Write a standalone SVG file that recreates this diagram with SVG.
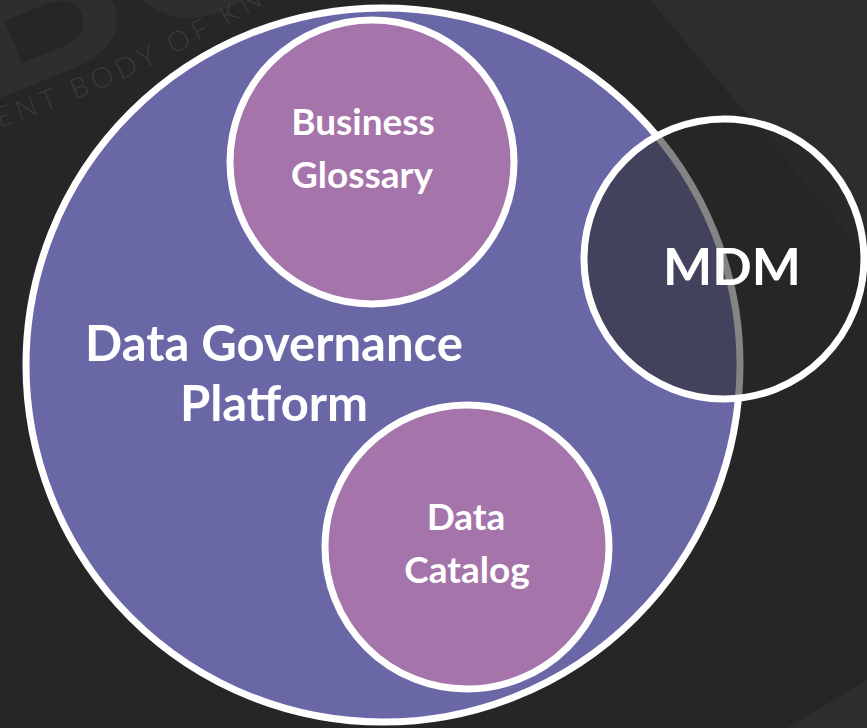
<svg xmlns="http://www.w3.org/2000/svg" width="867" height="728" viewBox="0 0 867 728">
<defs>
<style>
.bg{fill:#262626}
.shade{fill:#2d2d2d}
.wm{fill:#3a3a3a;font-family:Lato,"Liberation Sans",sans-serif;font-weight:300}
.wmbig{fill:#2e2e2e;font-family:"Liberation Sans",Arial,sans-serif;font-weight:bold}
.outer{fill:#6a67a6;stroke:#ffffff;stroke-width:7}
.inner{fill:#a574ab;stroke:#ffffff;stroke-width:7}
.mdm{fill:#262626;fill-opacity:0.57;stroke:#ffffff;stroke-width:7}
.lbl{fill:#ffffff;font-family:Lato,"Open Sans","Liberation Sans",sans-serif;font-weight:bold;text-anchor:middle}
</style>
<path id="arc" d="M -42.4 141.6 A 1360 1360 0 0 0 340 -45"/>
</defs>
<rect class="bg" x="0" y="0" width="867" height="728"/>
<polygon class="shade" points="650,0 867,0 867,256"/>
<polygon class="shade" points="787,728 867,680 867,728"/>
<g id="watermark">
<text class="wmbig" font-size="230" transform="translate(-14,104) rotate(-22)">BO</text>
<text class="wm" font-size="28" letter-spacing="5"><textPath href="#arc" startOffset="44">ENT BODY OF KN</textPath></text>
</g>
<g id="node-platform">
<circle class="outer" cx="383" cy="365" r="357"/>
<text class="lbl" font-size="49" x="274" y="361">Data Governance</text>
<text class="lbl" font-size="49" x="274" y="421">Platform</text>
</g>
<g id="node-glossary">
<circle class="inner" cx="372" cy="162" r="142"/>
<text class="lbl" font-size="37" x="363" y="135">Business</text>
<text class="lbl" font-size="37" x="362" y="188">Glossary</text>
</g>
<g id="node-catalog">
<circle class="inner" cx="467" cy="547" r="142"/>
<text class="lbl" font-size="37" x="466" y="530">Data</text>
<text class="lbl" font-size="37" x="467" y="583">Catalog</text>
</g>
<g id="node-mdm">
<circle class="mdm" cx="724" cy="259" r="140"/>
<text class="lbl" font-size="52" x="732" y="285">MDM</text>
</g>
<g id="connectors"/>
</svg>
